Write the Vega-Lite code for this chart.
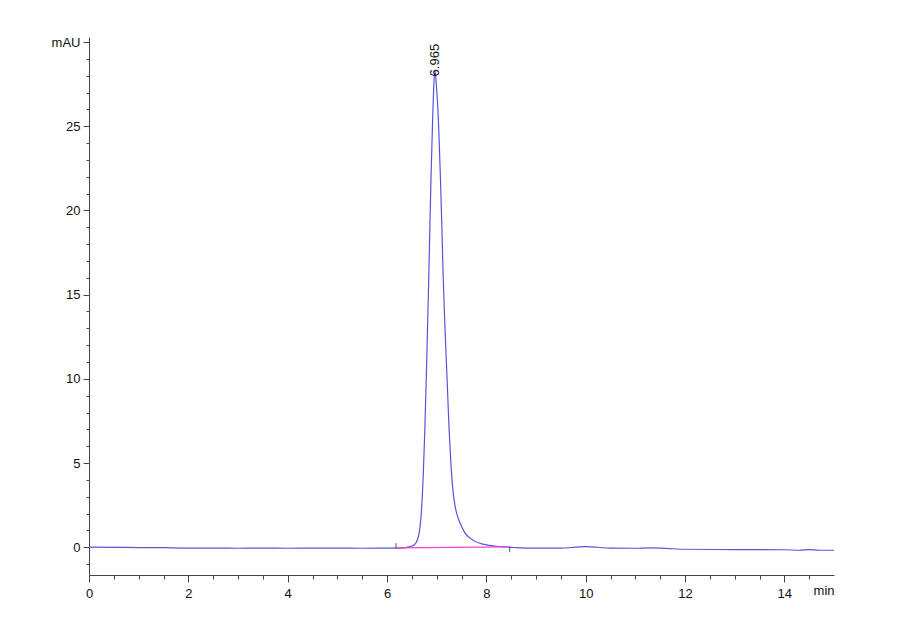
{
  "$schema": "https://vega.github.io/schema/vega-lite/v6.json",
  "width": 745,
  "height": 538,
  "autosize": "none",
  "padding": {"left": 89, "top": 37, "right": 66, "bottom": 44},
  "background": "white",
  "datasets": {
    "trace": [
      {"t": 0.0, "mAU": 0.0}, {"t": 0.5, "mAU": -0.01}, {"t": 1.0, "mAU": -0.02},
      {"t": 1.5, "mAU": -0.03}, {"t": 2.0, "mAU": -0.05}, {"t": 2.5, "mAU": -0.05},
      {"t": 3.0, "mAU": -0.06}, {"t": 3.5, "mAU": -0.05}, {"t": 4.0, "mAU": -0.06},
      {"t": 4.5, "mAU": -0.05}, {"t": 5.0, "mAU": -0.05}, {"t": 5.5, "mAU": -0.06},
      {"t": 6.0, "mAU": -0.05}, {"t": 6.3, "mAU": -0.05}, {"t": 6.46, "mAU": 0.04},
      {"t": 6.55, "mAU": 0.15}, {"t": 6.59, "mAU": 0.3}, {"t": 6.63, "mAU": 0.6},
      {"t": 6.66, "mAU": 1.1}, {"t": 6.69, "mAU": 2.0}, {"t": 6.71, "mAU": 3.0},
      {"t": 6.73, "mAU": 4.3}, {"t": 6.76, "mAU": 6.8}, {"t": 6.79, "mAU": 9.98},
      {"t": 6.82, "mAU": 13.5}, {"t": 6.84, "mAU": 15.9}, {"t": 6.86, "mAU": 18.6},
      {"t": 6.885, "mAU": 21.8}, {"t": 6.915, "mAU": 25.0}, {"t": 6.94, "mAU": 27.3},
      {"t": 6.965, "mAU": 28.3}, {"t": 6.99, "mAU": 27.6}, {"t": 7.04, "mAU": 25.0},
      {"t": 7.075, "mAU": 22.0}, {"t": 7.105, "mAU": 19.0}, {"t": 7.13, "mAU": 16.2},
      {"t": 7.165, "mAU": 13.2}, {"t": 7.21, "mAU": 9.98}, {"t": 7.25, "mAU": 7.0},
      {"t": 7.29, "mAU": 4.8}, {"t": 7.33, "mAU": 3.3}, {"t": 7.37, "mAU": 2.45},
      {"t": 7.43, "mAU": 1.75}, {"t": 7.5, "mAU": 1.25}, {"t": 7.565, "mAU": 0.87},
      {"t": 7.7, "mAU": 0.48}, {"t": 7.93, "mAU": 0.18}, {"t": 8.27, "mAU": 0.04},
      {"t": 8.6, "mAU": -0.02}, {"t": 9.0, "mAU": -0.05}, {"t": 9.5, "mAU": -0.05},
      {"t": 9.8, "mAU": 0.0}, {"t": 10.0, "mAU": 0.04}, {"t": 10.2, "mAU": 0.0},
      {"t": 10.5, "mAU": -0.05}, {"t": 11.0, "mAU": -0.06}, {"t": 11.3, "mAU": -0.04},
      {"t": 11.6, "mAU": -0.07}, {"t": 12.0, "mAU": -0.12}, {"t": 13.0, "mAU": -0.14},
      {"t": 14.0, "mAU": -0.15}, {"t": 14.3, "mAU": -0.18}, {"t": 14.5, "mAU": -0.14},
      {"t": 14.7, "mAU": -0.18}, {"t": 15.0, "mAU": -0.18}
    ],
    "baseline": [
      {"t": 6.18, "mAU": -0.04}, {"t": 8.47, "mAU": 0.02}
    ],
    "marks": [
      {"t": 6.18, "lo": -0.06, "hi": 0.24},
      {"t": 8.47, "lo": -0.28, "hi": 0.03}
    ],
    "peaks": [
      {"t": 6.965, "mAU": 27.9, "label": "6.965"}
    ]
  },
  "encoding": {
    "x": {
      "field": "t", "type": "quantitative",
      "scale": {"domain": [0, 15], "nice": false, "zero": false},
      "axis": {
        "title": null,
        "grid": false,
        "format": "~g",
        "values": [0, 0.5, 1, 1.5, 2, 2.5, 3, 3.5, 4, 4.5, 5, 5.5, 6, 6.5, 7, 7.5, 8, 8.5, 9, 9.5, 10, 10.5, 11, 11.5, 12, 12.5, 13, 13.5, 14, 14.5, 15],
        "labelExpr": "datum.value == 15 ? 'min' : (datum.value % 2 == 0 ? datum.label : '')",
        "labelAlign": {"condition": {"test": "datum.value == 15", "value": "right"}, "value": "center"},
        "tickSize": {"condition": {"test": "datum.value % 2 == 0", "value": 7}, "value": 4},
        "tickOpacity": {"condition": {"test": "datum.value == 15", "value": 0}, "value": 1},
        "labelPadding": 5,
        "labelFlush": false,
        "labelOverlap": false
      }
    },
    "y": {
      "field": "mAU", "type": "quantitative",
      "scale": {"domain": [-1.65, 30.3], "nice": false, "zero": false},
      "axis": {
        "title": null,
        "grid": false,
        "format": "~g",
        "values": [-1, 0, 1, 2, 3, 4, 5, 6, 7, 8, 9, 10, 11, 12, 13, 14, 15, 16, 17, 18, 19, 20, 21, 22, 23, 24, 25, 26, 27, 28, 29, 30],
        "labelExpr": "datum.value == 30 ? 'mAU' : (datum.value % 5 == 0 ? datum.label : '')",
        "tickSize": {"condition": {"test": "datum.value % 5 == 0", "value": 6}, "value": 3},
        "labelPadding": 3,
        "labelFlush": false,
        "labelOverlap": false
      }
    }
  },
  "layer": [
    {
      "data": {"name": "trace"},
      "mark": {"type": "line", "color": "#5656dc", "strokeWidth": 1.2, "interpolate": "monotone"}
    },
    {
      "data": {"name": "baseline"},
      "mark": {"type": "line", "color": "#ee44dd", "strokeWidth": 1.3}
    },
    {
      "data": {"name": "marks"},
      "mark": {"type": "rule", "color": "#555555", "strokeWidth": 1},
      "encoding": {
        "y": {"field": "lo", "type": "quantitative"},
        "y2": {"field": "hi"}
      }
    },
    {
      "data": {"name": "peaks"},
      "mark": {"type": "text", "angle": 270, "align": "left", "baseline": "middle", "font": "Liberation Sans", "fontSize": 13, "color": "#111111", "dx": 1},
      "encoding": {
        "text": {"field": "label"}
      }
    }
  ],
  "config": {
    "view": {"stroke": null},
    "axis": {
      "domainColor": "#444444",
      "tickColor": "#444444",
      "labelColor": "#111111",
      "labelFont": "Liberation Sans",
      "labelFontSize": 13,
      "domainWidth": 1,
      "tickWidth": 1
    }
  }
}
